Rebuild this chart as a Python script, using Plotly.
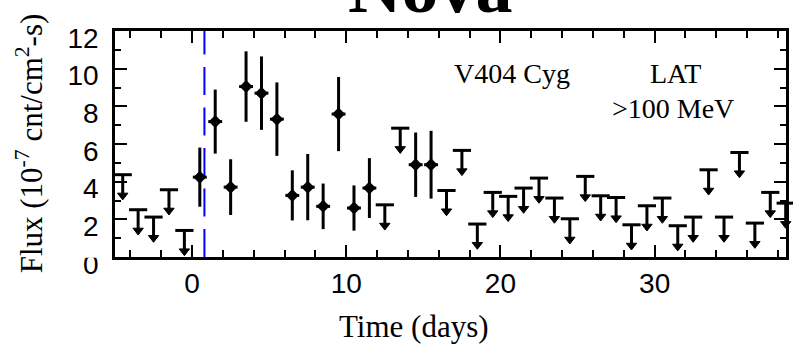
import plotly.graph_objects as go

# ---- data ----
det_days = [0.5, 1.5, 2.5, 3.5, 4.5, 5.5, 6.5, 7.5, 8.5, 9.5, 10.5, 11.5, 14.5, 15.5]
det_flux = [4.24, 7.19, 3.71, 9.05, 8.70, 7.32, 3.27, 3.71, 2.69, 7.59, 2.60, 3.66, 4.90, 4.90]
det_err = [1.57, 1.70, 1.48, 1.87, 1.95, 1.95, 1.33, 1.76, 1.21, 1.97, 1.20, 1.59, 1.71, 1.80]
bin_half_width = 0.45

ul_days = [-4.5, -3.5, -2.5, -1.5, -0.5, 12.5, 13.5, 16.5, 17.5, 18.5, 19.5, 20.5, 21.5,
           22.5, 23.5, 24.5, 25.5, 26.5, 27.5, 28.5, 29.5, 30.5, 31.5, 32.5, 33.5, 34.5,
           35.5, 36.5, 37.5, 38.5]
ul_flux = [4.37, 2.51, 2.12, 3.57, 1.41, 2.77, 6.84, 3.53, 5.66, 1.75, 3.43, 3.22, 3.66,
           4.19, 3.13, 2.03, 4.28, 3.25, 3.16, 1.71, 2.72, 3.13, 1.66, 2.12, 4.63, 2.12,
           5.55, 1.80, 3.43, 2.86]

onset_day = 0.8
x_range = [-5, 38.52]
y_range = [0, 12]

# arrow geometry for upper limits (in flux units)
stem_len = 1.0
head_offset = 1.1

fig = go.Figure()

# upper limits: bar + stem
fig.add_trace(go.Scatter(
    x=ul_days, y=ul_flux, mode="markers", cliponaxis=False,
    marker=dict(symbol="line-ew", size=13, color="black",
                line=dict(width=3, color="black")),
    error_y=dict(type="data", symmetric=False, array=[0] * len(ul_flux),
                 arrayminus=[stem_len] * len(ul_flux), color="black",
                 thickness=3, width=0),
    showlegend=False, hoverinfo="skip"))
# upper limits: arrow heads
fig.add_trace(go.Scatter(
    x=ul_days, y=[v - head_offset for v in ul_flux], mode="markers", cliponaxis=False,
    marker=dict(symbol="triangle-down", size=9, color="black",
                line=dict(width=1, color="black")),
    showlegend=False, hoverinfo="skip"))

# detections
fig.add_trace(go.Scatter(
    x=det_days, y=det_flux, mode="markers", cliponaxis=False,
    marker=dict(symbol="diamond", size=10, color="black"),
    error_y=dict(type="data", array=det_err, color="black", thickness=3, width=0),
    error_x=dict(type="constant", value=bin_half_width, color="black", thickness=3, width=0),
    showlegend=False))

# onset line
fig.add_shape(type="line", xref="x", yref="paper", x0=onset_day, x1=onset_day,
              y0=0, y1=1, layer="below",
              line=dict(color="#0000ff", width=2, dash="28px,12.5px"))

# hide top half of the y "0" label like in the reference
fig.add_shape(type="rect", xref="paper", yref="paper", x0=-0.085, x1=-0.006,
              y0=-0.003, y1=0.085, layer="above", line=dict(width=0),
              fillcolor="white")

tickfont = dict(family="Liberation Sans, Arial, sans-serif", size=28, color="black")
serif = "Liberation Serif, Times New Roman, serif"

fig.update_xaxes(
    range=x_range, showgrid=False, zeroline=False, automargin=False,
    showline=True, linecolor="black", linewidth=2.5, mirror="allticks",
    ticks="inside", tick0=0, dtick=10, ticklen=12, tickwidth=2, tickcolor="black",
    minor=dict(tick0=0, dtick=2, ticks="inside", ticklen=7, tickwidth=2,
               tickcolor="black", showgrid=False),
    tickfont=tickfont, ticklabelstandoff=0)
fig.update_yaxes(
    range=y_range, showgrid=False, zeroline=False, automargin=False,
    showline=True, linecolor="black", linewidth=2.5, mirror="allticks",
    ticks="inside", tick0=0, dtick=2, ticklen=12, tickwidth=2, tickcolor="black",
    minor=dict(tick0=0, dtick=1, ticks="inside", ticklen=6, tickwidth=2,
               tickcolor="black", showgrid=False),
    tickfont=tickfont, ticklabelstandoff=8, ticklabelshift=7)

annos = [
    dict(text="<b>Nova</b>", x=0.4694, y=1.194, font=dict(family=serif, size=74, color="black")),
    dict(text="V404 Cyg", x=0.5917, y=0.812, font=dict(family=serif, size=28, color="black")),
    dict(text="LAT", x=0.836, y=0.812, font=dict(family=serif, size=28, color="black")),
    dict(text=">100 MeV", x=0.831, y=0.6575, font=dict(family=serif, size=28, color="black")),
    dict(text="Time (days)", x=0.4456, y=-0.306, font=dict(family=serif, size=31, color="black")),
    dict(text="Flux (10<sup>-7</sup> cnt/cm<sup>2</sup>-s)", x=-0.1274, y=0.5007,
         textangle=-90, font=dict(family=serif, size=31, color="black")),
]
for a in annos:
    fig.add_annotation(xref="paper", yref="paper", showarrow=False,
                       xanchor="center", yanchor="middle", **a)

fig.update_layout(
    width=793, height=345,
    margin=dict(l=115, r=7, t=31, b=88, autoexpand=False),
    paper_bgcolor="white", plot_bgcolor="white",
    showlegend=False,
)

fig.write_html(
    "out.html",
    config={"displayModeBar": False},
    post_script="document.body.style.margin='0';document.body.style.overflow='hidden';",
)
